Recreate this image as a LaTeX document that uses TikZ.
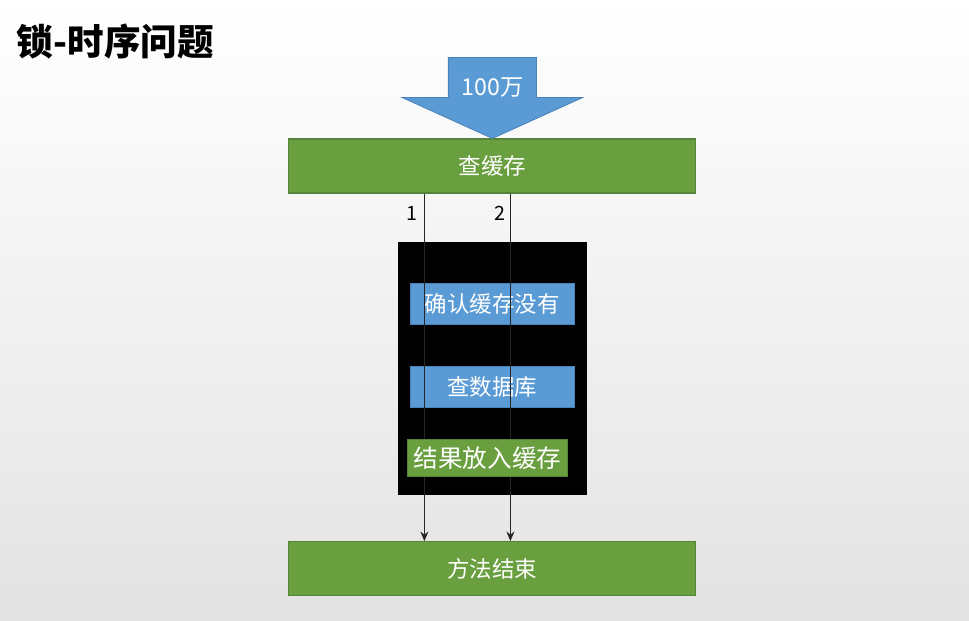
\documentclass[tikz,border=0pt]{standalone}
\usepackage{fontspec}
\setmainfont{Noto Sans CJK SC}
\usepackage{xcolor}
\usepackage{tikz}
\usetikzlibrary{arrows.meta, positioning, calc}

\definecolor{boxgreen}{HTML}{6A9F40}
\definecolor{greenline}{HTML}{55843A}
\definecolor{boxblue}{HTML}{5B9BD5}
\definecolor{blueline}{HTML}{4A82BC}
\definecolor{flowline}{HTML}{262626}

\begin{document}
\begin{tikzpicture}[
    stepgreen/.style={
        rectangle,
        draw=greenline,
        fill=boxgreen,
        line width=0.8pt,
        minimum width=10.175cm,
        minimum height=1.35cm,
        text=white,
        font=\fontsize{16}{19}\selectfont
    },
    stepblue/.style={
        rectangle,
        draw=blueline,
        fill=boxblue,
        line width=0.6pt,
        minimum width=4.1cm,
        minimum height=1.025cm,
        text=white,
        font=\fontsize{16}{19}\selectfont
    },
    lockbox/.style={
        rectangle,
        fill=black,
        minimum width=4.725cm,
        minimum height=6.325cm
    },
    lbl/.style={font=\fontsize{14}{16}\selectfont, text=black},
    arrow/.style={-{Stealth[length=2.4mm, width=2mm]}, draw=flowline, line width=0.9pt},
    node distance=1.2cm
]

% background and frame
\shade[top color=white, bottom color=black!11] (0,0) rectangle (24.225,15.5);
\useasboundingbox (0,0) rectangle (24.225,15.5);

\node[anchor=west, font=\fontsize{26}{30}\selectfont\bfseries] (title) at (0.3,14.45) {锁-时序问题};

\node[stepgreen] (cache) at (12.31,11.35) {查缓存};

% big arrow coming in
\coordinate (tip) at (cache.north);
\draw[draw=blueline, fill=boxblue, line width=0.6pt]
    (tip) -- ++(-2.26,1.025) -- ++(1.16,0) -- ++(0,1.0) -- ++(2.2,0)
    -- ++(0,-1.0) -- ++(1.16,0) -- cycle;
\node[text=white, font=\fontsize{16.5}{19}\selectfont] (amount) at ([yshift=1.275cm]tip) {100万};

\node[lockbox, below=1.2cm of cache] (lock) {};

\node[stepblue, below=1.025cm of lock.north, anchor=north] (check) {确认缓存没有};
\node[stepblue, below=1.05cm of check] (query) {查数据库};

\node[stepgreen, below=1.15cm of lock] (done) {方法结束};

% the two threads
\coordinate (t1) at ([xshift=-1.7cm]cache.south);
\coordinate (t2) at ([xshift=0.45cm]cache.south);
\draw[arrow] (t1) -- (t1 |- done.north);
\draw[arrow] (t2) -- (t2 |- done.north);

\node[lbl] (one) at ([xshift=-0.3cm,yshift=-0.5cm]t1) {1};
\node[lbl] (two) at ([xshift=-0.27cm,yshift=-0.5cm]t2) {2};

\node[stepgreen, below=0.775cm of query, xshift=-0.125cm,
      minimum width=4.0cm, minimum height=0.925cm, inner sep=1pt,
      font=\fontsize{17.5}{20}\selectfont] (store) {结果放入缓存};

\end{tikzpicture}
\end{document}
